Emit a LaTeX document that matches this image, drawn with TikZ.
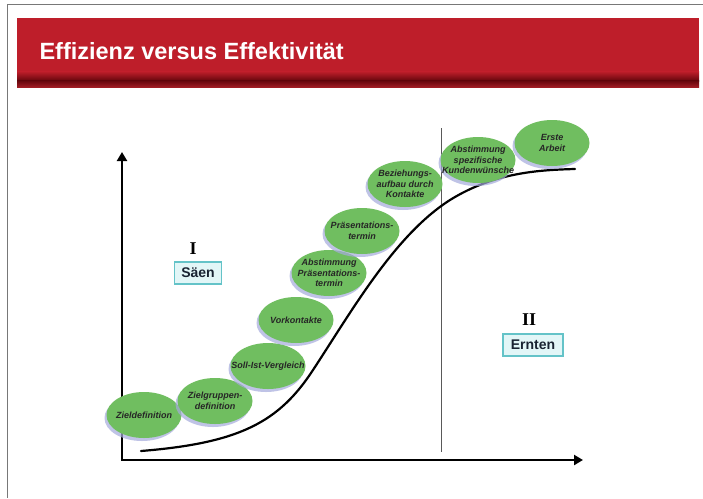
\documentclass[tikz,border=0pt]{standalone}
\usepackage{fontspec}
\setmainfont{Liberation Sans}
\newfontfamily\serifb{Liberation Serif}
\usetikzlibrary{shapes.geometric,shadows,arrows.meta}
\definecolor{bannerred}{RGB}{190,30,42}
\definecolor{bannerdark}{RGB}{100,6,12}
\definecolor{bannerlow}{RGB}{160,28,36}
\definecolor{leafgreen}{RGB}{112,190,96}
\definecolor{shadowblue}{RGB}{165,170,220}
\definecolor{boxfill}{RGB}{226,246,247}
\definecolor{boxline}{RGB}{100,195,200}
\definecolor{textnavy}{RGB}{25,35,50}
\definecolor{framegray}{RGB}{120,120,120}
\tikzset{
  leaf/.style={ellipse, fill=leafgreen, minimum width=75pt, minimum height=46pt,
    inner sep=0pt,
    drop shadow={shadow xshift=-2pt, shadow yshift=-3pt, fill=shadowblue, opacity=0.7}},
  leaftext/.style={align=center, inner sep=0pt, text=black!85,
    font=\fontsize{9}{10.5}\selectfont\bfseries\itshape},
  tagbox/.style={draw=boxline, line width=1.5pt, fill=boxfill, minimum height=22pt,
    inner sep=1pt, text=textnavy, font=\bfseries\fontsize{14}{14}\selectfont},
  roman/.style={font=\serifb\bfseries\fontsize{18}{18}\selectfont, text=black},
  axis/.style={line width=2.8pt, line join=miter, {Triangle[length=9pt,width=10pt]}-{Triangle[length=9pt,width=10pt]}},
  curveline/.style={line width=2.2pt, line cap=round},
  divider/.style={line width=1pt, draw=black!65}
}
\begin{document}
\begin{tikzpicture}[x=1pt,y=-1pt]
\useasboundingbox (0,0) rectangle (703,498);
\fill[white] (0,0) rectangle (703,498);
% frame
\draw[framegray, line width=1pt] (703,4) -- (7,4) -- (7,498);
% banner
\fill[bannerred] (17,18) rectangle (699,72);
\shade[top color=bannerred, bottom color=bannerdark] (17,71.5) rectangle (699,81);
\shade[top color=bannerdark, bottom color=bannerlow] (17,80.5) rectangle (699,87);
\node[anchor=west, text=white, font=\fontsize{23.5}{24}\selectfont\bfseries] (title) at (36,51) {Effizienz versus Effektivität};
% axes
\coordinate (ytip) at (122,152);
\coordinate (origin) at (122,460);
\coordinate (xtip) at (583,460);
\draw[axis] (ytip) -- (origin) -- (xtip);
% divider
\coordinate (dtop) at (441,128);
\coordinate (dbot) at (441,452);
\draw[divider] (dtop) -- (dbot);
% S-curve
\coordinate (c0) at (141,451);
\coordinate (c1) at (313,370);
\coordinate (c2) at (450,200);
\coordinate (c3) at (575,169);
\draw[curveline] (c0) .. controls (240,443) and (279,422) .. (c1)
  .. controls (353,309) and (395,235) .. (c2)
  .. controls (495,172) and (540,170) .. (c3);
% ellipses
\node[leaf, label={[leaftext]center:Zieldefinition}] (e1) at (144,415) {};
\node[leaf, label={[leaftext]center:{Zielgruppen-\\definition}}] (e2) at (215,401) {};
\node[leaf, label={[leaftext]center:Soll-Ist-Vergleich}] (e3) at (268,366) {};
\node[leaf, label={[leaftext]center:Vorkontakte}] (e4) at (296,320) {};
\node[leaf, label={[leaftext]center:{Abstimmung\\Präsentations-\\termin}}] (e5) at (329,273) {};
\node[leaf, label={[leaftext]center:{Präsentations-\\termin}}] (e6) at (362,231) {};
\node[leaf, label={[leaftext]center:{Beziehungs-\\aufbau durch\\Kontakte}}] (e7) at (405,184) {};
\node[leaf, label={[leaftext]center:{Abstimmung\\spezifische\\Kundenwünsche}}] (e8) at (478,160) {};
\node[leaf, label={[leaftext]center:{Erste\\Arbeit}}] (e9) at (552,143) {};
% phase labels
\node[roman] (r1) at (193,249) {I};
\node[tagbox, minimum width=47pt] (saen) at (198,273) {Säen};
\node[roman] (r2) at (529,320) {II};
\node[tagbox, minimum width=60pt] (ernten) at (533,345) {Ernten};
\end{tikzpicture}
\end{document}
